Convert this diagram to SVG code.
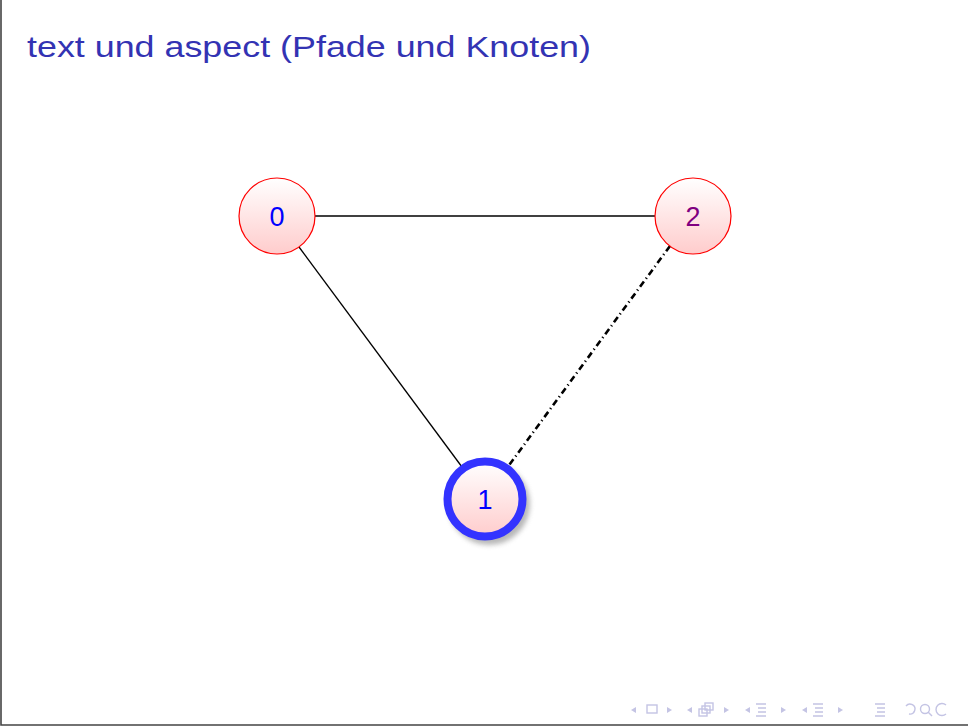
<svg xmlns="http://www.w3.org/2000/svg" width="968" height="726" viewBox="0 0 968 726">
<style>
.title{font-family:"Liberation Sans",Arimo,sans-serif;font-size:30px;fill:#3333b3}
.lbl{font-family:"Liberation Sans",Arimo,sans-serif;font-size:27px;text-anchor:middle}
.edge{stroke:#000;fill:none;stroke-width:1.3}
.nav{fill:none;stroke:#c4c4e4;stroke-width:1.4}
.navf{fill:#c4c4e4}
</style>
<defs>
<linearGradient id="g" x1="0" y1="0" x2="0" y2="1">
<stop offset="0" stop-color="#ffffff"/>
<stop offset="1" stop-color="#ffcccc"/>
</linearGradient>
<filter id="sh" x="-50%" y="-50%" width="200%" height="200%">
<feGaussianBlur stdDeviation="2.5"/>
</filter>
</defs>
<rect width="968" height="726" fill="#fff"/>
<path d="M1,0 V725 H968" fill="none" stroke="#444" stroke-width="1.6"/>
<text class="title" x="27" y="57" textLength="564" lengthAdjust="spacingAndGlyphs">text und aspect (Pfade und Knoten)</text>
<g id="connectors">
<line class="edge" x1="315" y1="216" x2="655" y2="216"/>
<line class="edge" x1="299" y1="247" x2="462" y2="467"/>
<line x1="670" y1="246" x2="507" y2="468" stroke="#000" stroke-width="2.6" stroke-dasharray="6.5 3.5 1.2 3.5"/>
</g>
<g id="node0">
<circle cx="277" cy="216" r="38" fill="url(#g)" stroke="#ff0000" stroke-width="1.2"/>
<text class="lbl" x="277" y="226" fill="#0000ff">0</text>
</g>
<g id="node2">
<circle cx="693" cy="216" r="38" fill="url(#g)" stroke="#ff0000" stroke-width="1.2"/>
<text class="lbl" x="693" y="226" fill="#800080">2</text>
</g>
<g id="node1">
<circle cx="489" cy="504" r="41" fill="#888" opacity="0.6" filter="url(#sh)"/>
<circle cx="485" cy="499" r="37.5" fill="url(#g)" stroke="#3333ff" stroke-width="8"/>
<text class="lbl" x="485" y="509" fill="#0000ff">1</text>
</g>
<g id="navigation">
<path class="navf" d="M636,707 l-5,3 l5,3z"/>
<rect class="nav" x="647" y="705" width="10" height="8"/>
<path class="navf" d="M667,707 l5,3 l-5,3z"/>
<path class="navf" d="M692,707 l-5,3 l5,3z"/>
<rect class="nav" x="699" y="709" width="8" height="7"/>
<rect class="nav" x="702" y="706" width="8" height="7"/>
<rect class="nav" x="705" y="703" width="8" height="7"/>
<path class="navf" d="M724,707 l5,3 l-5,3z"/>
<path class="navf" d="M750,707 l-5,3 l5,3z"/>
<path class="nav" d="M756,704 h10 M758,708 h8 M758,712 h8 M756,716 h10"/>
<path class="navf" d="M781,707 l5,3 l-5,3z"/>
<path class="navf" d="M807,707 l-5,3 l5,3z"/>
<path class="nav" d="M813,704 h10 M815,708 h8 M815,712 h8 M813,716 h10"/>
<path class="navf" d="M838,707 l5,3 l-5,3z"/>
<path class="nav" d="M875,704 h10 M877,708 h8 M877,712 h8 M875,716 h10"/>
<path class="nav" d="M906,706 a5,5 0 1,1 3,8"/>
<circle class="nav" cx="925" cy="709" r="4.5"/>
<path class="nav" d="M928,712 l4,4"/>
<path class="nav" d="M946,705 a6,6 0 1,0 0,9"/>
</g>
</svg>
